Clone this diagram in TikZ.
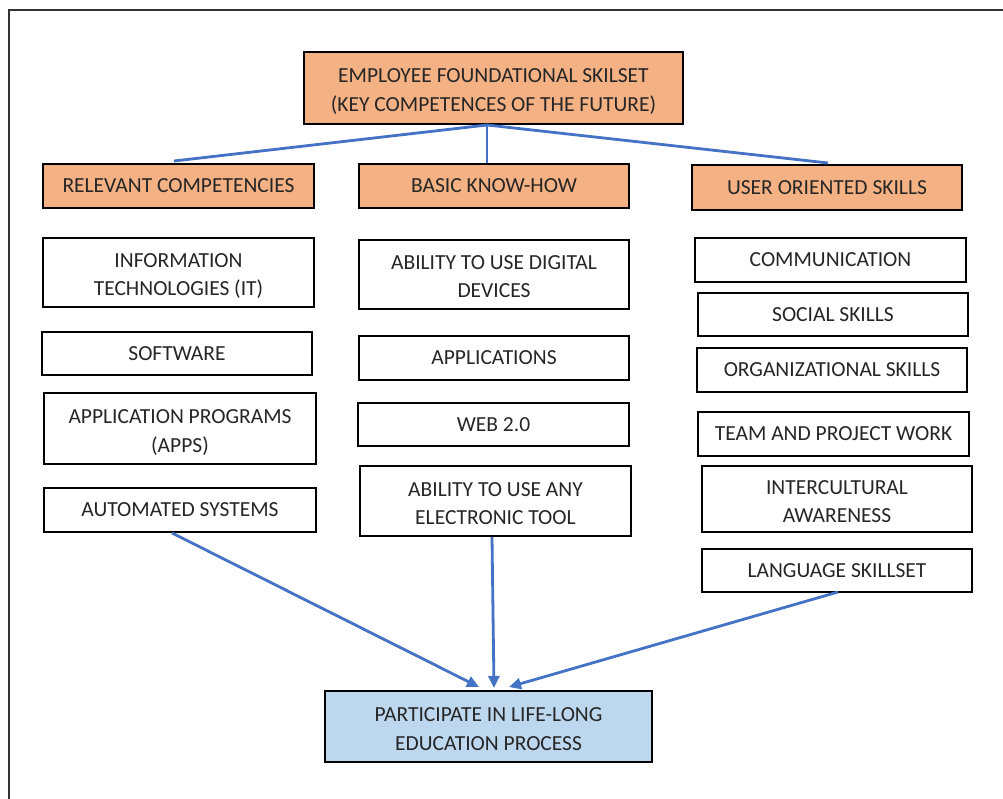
\documentclass[tikz,border=0pt]{standalone}
\usepackage{fontspec}
\setmainfont{Carlito}
\usetikzlibrary{arrows.meta}
\definecolor{orangefill}{HTML}{F4B183}
\definecolor{bluefill}{HTML}{BDD7EE}
\definecolor{linkblue}{HTML}{4472C4}
\definecolor{textgray}{HTML}{262626}
\tikzset{
  base/.style={draw=black, line width=1.6pt, inner sep=0pt, align=center,
    text=textgray, font=\fontsize{21.5}{28.5}\selectfont},
  headbox/.style={base, fill=orangefill},
  itembox/.style={base, fill=white},
  goalbox/.style={base, fill=bluefill},
  % two-line texts: fixed extent above the last baseline keeps them centred alike
  twoline/.style={text height=47pt, text depth=0pt},
  link/.style={draw=linkblue, line width=2.8pt},
  arrowlink/.style={link, -{Triangle[length=12pt,width=11pt]}},
}
% place a box by its corners: #1 style, #2 name, (#3,#4) top-left, (#5,#6) bottom-right, #7 text
\newcommand{\cornerbox}[7]{%
  \node[#1, minimum width={#5-#3}, minimum height={#6-#4}]
    (#2) at ({(#3+#5)/2},{(#4+#6)/2}) {#7};}
\begin{document}
\begin{tikzpicture}[x=1pt, y=-1pt]
\useasboundingbox (0,0) rectangle (1003,799);
% page frame
\draw[line width=1.8pt, draw=black!80] (9,800) -- (9,10) -- (1004,10);

% headings
\cornerbox{headbox,twoline}{top}{304}{52}{683}{124}{EMPLOYEE FOUNDATIONAL SKILSET\\(KEY COMPETENCES OF THE FUTURE)}
\cornerbox{headbox}{rel}{43}{164}{314}{208}{RELEVANT COMPETENCIES}
\cornerbox{headbox}{basic}{359}{164}{629}{208}{BASIC KNOW-HOW}
\cornerbox{headbox}{user}{692}{165}{962}{210}{USER ORIENTED SKILLS}

% left column
\cornerbox{itembox,twoline}{it}{43}{238}{314}{307}{INFORMATION\\TECHNOLOGIES (IT)}
\cornerbox{itembox}{soft}{42}{332}{312}{375}{SOFTWARE}
\cornerbox{itembox,twoline}{apps}{44}{393}{316}{464}{APPLICATION PROGRAMS\\(APPS)}
\cornerbox{itembox}{auto}{44}{488}{316}{532}{AUTOMATED SYSTEMS}

% middle column
\cornerbox{itembox,twoline}{digital}{359}{240}{629}{309}{ABILITY TO USE DIGITAL\\DEVICES}
\cornerbox{itembox}{appl}{359}{336}{629}{380}{APPLICATIONS}
\cornerbox{itembox}{web}{358}{403}{629}{446}{WEB 2.0}
\cornerbox{itembox,twoline}{tool}{360}{466}{631}{536}{ABILITY TO USE ANY\\ELECTRONIC TOOL}

% right column
\cornerbox{itembox}{comm}{695}{238}{966}{282}{COMMUNICATION}
\cornerbox{itembox}{social}{698}{293}{968}{336}{SOCIAL SKILLS}
\cornerbox{itembox}{org}{697}{348}{967}{392}{ORGANIZATIONAL SKILLS}
\cornerbox{itembox}{team}{698}{412}{969}{456}{TEAM AND PROJECT WORK}
\cornerbox{itembox,twoline}{inter}{702}{466}{972}{532}{INTERCULTURAL\\AWARENESS}
\cornerbox{itembox}{lang}{702}{549}{972}{592}{LANGUAGE SKILLSET}

% goal
\cornerbox{goalbox,twoline}{goal}{325}{691}{652}{762}{PARTICIPATE IN LIFE-LONG\\EDUCATION PROCESS}

% connector ends
\coordinate (hub) at (487,125);
\coordinate (relTop) at (174,161);
\coordinate (basicTop) at (487,163);
\coordinate (userTop) at (828,163);
\coordinate (autoOut) at (172,533);
\coordinate (toolOut) at (492,537);
\coordinate (langOut) at (838,592);
\coordinate (goalL) at (479,687);
\coordinate (goalM) at (494,688);
\coordinate (goalR) at (509,687);

\draw[link] (hub) -- (relTop);
\draw[link] (hub) -- (basicTop);
\draw[link] (hub) -- (userTop);
\draw[arrowlink] (autoOut) -- (goalL);
\draw[arrowlink] (toolOut) -- (goalM);
\draw[arrowlink] (langOut) -- (goalR);
\end{tikzpicture}
\end{document}
